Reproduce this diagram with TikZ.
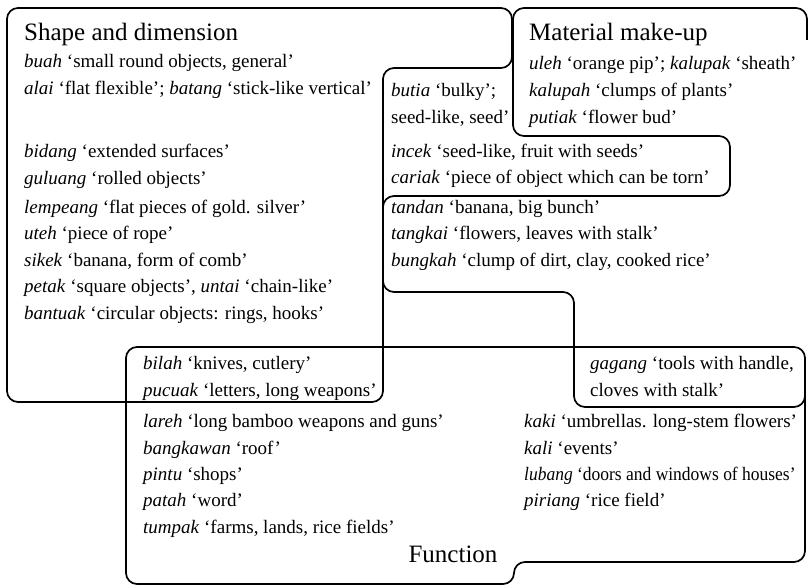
\documentclass[tikz,border=0pt]{standalone}
\usepackage{fontspec}
\setmainfont{Liberation Serif}
\begin{document}
\begin{tikzpicture}[x=1pt,y=-1pt,
  outline/.style={line width=1.7pt, rounded corners=11pt, line join=round},
  entry/.style={anchor=base west, inner sep=0pt, font=\fontsize{19}{22}\selectfont},
  heading/.style={anchor=base west, inner sep=0pt, font=\fontsize{25}{30}\selectfont}]
\useasboundingbox (0,0) rectangle (810,588);

% Shape and dimension outline
\draw[outline] (7,200) -- (7,8) -- (512,8) -- (512,68) -- (383,68) -- (383,402) -- (7,402) -- cycle;
% Material make-up outline
\draw[outline] (807,40) -- (807,8) -- (513,8) -- (513,136) -- (730,136) -- (730,196) -- (383,196) -- (383,292) -- (574,292) -- (574,407) -- (805,407) -- (805,380);
% Function outline
\draw[outline] (126,450) -- (126,347) -- (805,347) -- (805,562) -- (514,562) -- (514,584) -- (126,584) -- cycle;

% Shape and dimension
\node[heading] (tS) at (24,41) {Shape and dimension};
\node[entry] (buah) at (24,67.5) {\textit{buah} ‘small round objects, general’};
\node[entry] (alai) at (24,94.5) {\textit{alai} ‘flat flexible’; \textit{batang} ‘stick-like vertical’};
\node[entry] (bidang) at (24,157.5) {\textit{bidang} ‘extended surfaces’};
\node[entry] (guluang) at (24,184) {\textit{guluang} ‘rolled objects’};
\node[entry] (lempeang) at (24,213) {\textit{lempeang} ‘flat pieces of gold. silver’};
\node[entry] (uteh) at (24,239.5) {\textit{uteh} ‘piece of rope’};
\node[entry] (sikek) at (24,266) {\textit{sikek} ‘banana, form of comb’};
\node[entry] (petak) at (24,292.5) {\textit{petak} ‘square objects’, \textit{untai} ‘chain-like’};
\node[entry] (bantuak) at (24,319) {\textit{bantuak} ‘circular objects: rings, hooks’};

% Material make-up
\node[heading] (tM) at (529,41) {Material make-up};
\node[entry] (uleh) at (529,70) {\textit{uleh} ‘orange pip’; \textit{kalupak} ‘sheath’};
\node[entry] (kalupah) at (529,97) {\textit{kalupah} ‘clumps of plants’};
\node[entry] (putiak) at (529,123.5) {\textit{putiak} ‘flower bud’};

% overlap Shape / Material
\node[entry] (butia) at (391,97) {\textit{butia} ‘bulky’;};
\node[entry] (seed) at (391,123.5) {seed-like, seed’};
\node[entry] (incek) at (391,157.5) {\textit{incek} ‘seed-like, fruit with seeds’};
\node[entry] (cariak) at (391,183.5) {\textit{cariak} ‘piece of object which can be torn’};
\node[entry] (tandan) at (391,213) {\textit{tandan} ‘banana, big bunch’};
\node[entry] (tangkai) at (391,239.5) {\textit{tangkai} ‘flowers, leaves with stalk’};
\node[entry] (bungkah) at (391,266) {\textit{bungkah} ‘clump of dirt, clay, cooked rice’};

% overlaps with Function
\node[entry] (bilah) at (143,369.5) {\textit{bilah} ‘knives, cutlery’};
\node[entry] (pucuak) at (143,396) {\textit{pucuak} ‘letters, long weapons’};
\node[entry] (gagang) at (590,369.5) {\textit{gagang} ‘tools with handle,};
\node[entry] (cloves) at (590,396) {cloves with stalk’};

% Function
\node[entry] (lareh) at (143,427.5) {\textit{lareh} ‘long bamboo weapons and guns’};
\node[entry] (bangkawan) at (143,454.5) {\textit{bangkawan} ‘roof’};
\node[entry] (pintu) at (143,480.5) {\textit{pintu} ‘shops’};
\node[entry] (patah) at (143,506.5) {\textit{patah} ‘word’};
\node[entry] (tumpak) at (143,533.5) {\textit{tumpak} ‘farms, lands, rice fields’};
\node[entry] (kaki) at (524,427.5) {\textit{kaki} ‘umbrellas. long-stem flowers’};
\node[entry] (kali) at (524,454.5) {\textit{kali} ‘events’};
\node[entry] (lubang) at (524,480.5) {\scalebox{0.92}[1]{\textit{lubang} ‘doors and windows of houses’}};
\node[entry] (piriang) at (524,506.5) {\textit{piriang} ‘rice field’};
\node[heading, anchor=base] (tF) at (453,562) {Function};
\end{tikzpicture}
\end{document}
